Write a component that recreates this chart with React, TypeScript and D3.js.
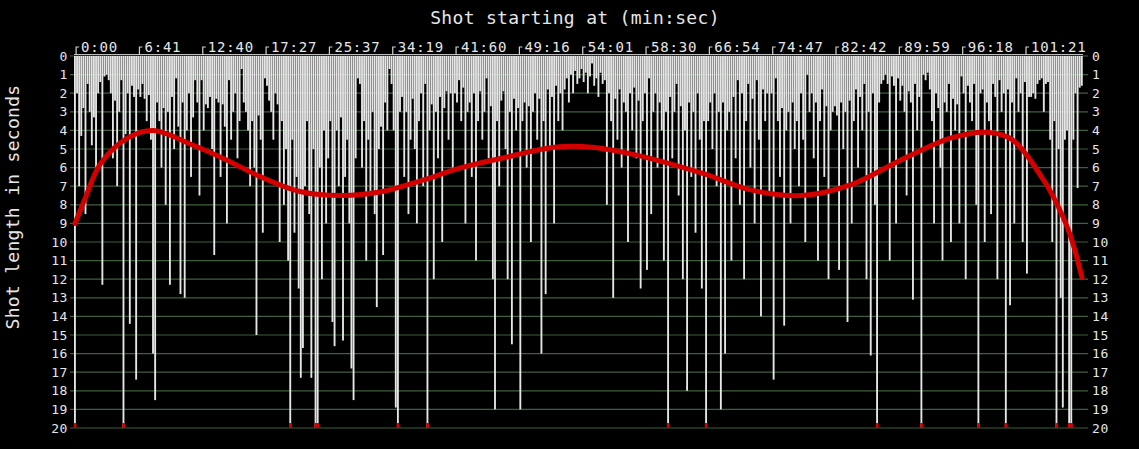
import React from 'react';
import * as d3 from 'd3';

// Shot lengths in seconds, in shot order (values >= 20 are capped & flagged red)
const shotLengths: number[] = [
  22, 2.0, 7.0, 4.3, 2.8, 8.5, 1.5, 3.0, 4.8, 3.3, 6.0, 2.0, 1.4, 12.3, 1.1, 1.0, 1.3, 2.0, 5.5, 2.4, 7.0, 3.0, 1.3, 21, 4.2, 2.0, 14.4, 1.6, 2.2, 17.4,
  1.8, 2.2, 1.5, 2.3, 3.5, 2.1, 4.5, 16.0, 18.5, 2.5, 3.5, 6.0, 2.8, 8.0, 3.0, 12.3, 2.2, 5.0, 1.2, 3.8, 12.8, 2.5, 13.0, 4.0, 2.0, 6.5, 3.3, 1.3, 2.5, 7.5,
  1.3, 4.0, 2.6, 2.8, 2.2, 5.0, 10.7, 2.3, 2.5, 6.5, 2.6, 3.8, 9.0, 1.3, 4.5, 3.0, 2.0, 5.5, 3.5, 0.7, 2.5, 3.0, 4.0, 7.0, 3.5, 6.0, 15.0, 3.2, 4.5, 9.5,
  1.2, 1.6, 2.4, 3.0, 4.5, 2.0, 2.6, 10.0, 3.5, 8.0, 5.0, 11.0, 21, 4.5, 9.5, 6.5, 12.5, 17.3, 15.7, 7.0, 3.5, 8.5, 17.3, 5.0, 22, 21, 6.0, 12.0, 4.0, 9.0,
  5.5, 3.5, 14.3, 15.6, 4.0, 7.0, 3.3, 15.3, 6.5, 4.5, 9.0, 16.8, 18.5, 5.5, 1.2, 1.5, 6.0, 3.5, 11.0, 4.5, 7.5, 3.0, 8.5, 13.5, 5.0, 3.8, 10.7, 2.5, 4.0, 0.7,
  1.5, 4.0, 18.9, 21, 3.0, 2.2, 6.5, 3.0, 8.5, 4.5, 2.3, 5.0, 9.0, 3.5, 2.0, 7.0, 1.5, 21, 4.0, 2.6, 12.0, 3.0, 5.5, 2.2, 10.0, 2.8, 1.9, 4.5, 2.0, 6.0,
  2.0, 2.5, 1.3, 3.5, 1.7, 9.0, 3.0, 2.5, 6.5, 2.0, 11.0, 3.5, 1.9, 4.5, 3.0, 1.2, 5.5, 2.7, 12.0, 19.0, 3.5, 7.0, 2.4, 1.9, 5.0, 12.0, 3.0, 15.5, 2.3, 4.0,
  2.8, 19.0, 3.5, 2.5, 6.0, 2.7, 10.0, 3.0, 2.0, 4.5, 2.3, 16.0, 3.5, 12.8, 1.8, 5.0, 2.2, 9.0, 1.6, 3.5, 2.0, 4.0, 1.8, 1.2, 2.5, 1.0, 2.0, 0.8, 1.5, 1.2,
  0.7, 1.4, 0.9, 2.0, 1.1, 0.4, 1.6, 1.2, 2.2, 0.9, 1.5, 1.3, 8.0, 2.0, 3.5, 13.0, 2.3, 4.5, 1.8, 6.0, 2.5, 3.0, 10.0, 2.0, 4.0, 1.7, 5.5, 2.4, 12.5, 3.5,
  2.0, 11.5, 1.2, 8.5, 3.0, 2.0, 6.0, 2.5, 4.0, 11.0, 3.0, 21, 2.2, 5.5, 3.0, 1.5, 7.5, 2.7, 12.0, 4.0, 18.0, 2.5, 6.5, 3.0, 9.5, 2.0, 4.5, 12.5, 3.5, 21,
  3.5, 2.5, 5.0, 2.0, 7.0, 3.0, 19.0, 2.5, 16.0, 4.0, 3.0, 11.0, 2.2, 5.5, 1.3, 8.0, 2.0, 12.0, 3.5, 1.5, 6.0, 2.3, 9.0, 1.3, 4.5, 14.0, 1.8, 3.5, 2.0, 7.5,
  2.0, 17.4, 1.2, 3.5, 6.5, 2.8, 14.5, 4.0, 3.0, 9.0, 2.5, 5.0, 3.5, 7.0, 2.0, 4.5, 10.0, 1.0, 3.0, 2.0, 5.5, 2.5, 11.0, 3.5, 1.8, 6.5, 2.7, 12.0, 4.0, 3.0,
  2.7, 3.2, 11.5, 2.5, 5.0, 3.0, 14.3, 2.4, 9.0, 3.5, 1.8, 6.0, 2.2, 4.0, 1.5, 12.0, 3.0, 16.1, 2.0, 8.0, 21, 2.5, 1.5, 1.3, 1.0, 1.5, 11.0, 1.1, 1.6, 9.0,
  1.2, 2.4, 1.6, 3.0, 7.5, 1.9, 2.5, 13.1, 1.5, 4.0, 2.2, 21, 1.0, 1.3, 0.9, 1.8, 3.5, 9.0, 2.0, 2.8, 6.0, 11.0, 2.5, 3.0, 1.5, 10.0, 2.3, 4.0, 2.6, 9.0,
  1.1, 2.0, 12.0, 1.6, 2.5, 3.5, 1.5, 8.0, 21, 2.0, 1.8, 10.0, 2.5, 3.5, 8.5, 1.5, 2.2, 12.0, 1.3, 3.0, 2.0, 21, 1.8, 13.4, 2.5, 9.0, 1.2, 3.0, 2.0, 10.0,
  1.4, 11.7, 2.2, 2.2, 2.0, 2.3, 1.5, 1.3, 1.2, 3.0, 1.5, 1.4, 4.5, 10.0, 3.5, 21, 5.0, 13.0, 18.9, 4.5, 4.0, 22, 22, 4.5, 2.0, 7.1, 1.7, 1.6,
];

// Top axis: a tick every 30 shots, labelled with shot start time
const tickEvery = 30;
const tickLabels: string[] = [
  '0:00', '6:41', '12:40', '17:27', '25:37', '34:19', '41:60', '49:16',
  '54:01', '58:30', '66:54', '74:47', '82:42', '89:59', '96:18', '101:21',
];

// Trend line (shot index, seconds)
const trendIndex: number[] = [0, 5, 12, 25, 37, 56, 72, 88, 107, 126, 145, 164, 183, 202, 227, 245, 265, 297, 320, 344, 368, 391, 415, 432, 444, 459, 464, 471, 477];
const trendSeconds: number[] = [9.0, 7.6, 5.8, 4.4, 4.0, 4.8, 5.6, 6.5, 7.3, 7.5, 7.3, 6.7, 6.0, 5.5, 4.9, 4.9, 5.3, 6.3, 7.2, 7.5, 6.9, 5.6, 4.4, 4.1, 4.5, 6.7, 7.7, 9.5, 11.9];

const yTicks: number[] = d3.range(0, 21);
const maxSeconds = 20;

export default function App() {
  const W = 1139;
  const H = 449;
  const left = 74;
  const right = 1083;
  const top = 56;
  const bottom = 428;
  const n = shotLengths.length;

  const x = d3.scaleBand<number>().domain(d3.range(n)).range([left, right]).padding(0);
  const bw = x.bandwidth();
  const y = d3.scaleLinear().domain([0, maxSeconds]).range([top, bottom]);
  const tx = d3.scaleLinear().domain([0, n - 1]).range([left + 1, right - 1]);

  const trendPts: [number, number][] = trendIndex.map((d, i) => [d, trendSeconds[i]]);
  const line = d3
    .line<[number, number]>()
    .x((d) => tx(d[0]))
    .y((d) => y(d[1]))
    .curve(d3.curveCatmullRom.alpha(0.5));

  const font = '"DejaVu Sans Mono", "Liberation Mono", monospace';
  const txt = '#e6e6e6';

  return (
    <>
      <style>{`html,body{margin:0;padding:0;background:#000;}`}</style>
      <svg width={W} height={H} style={{ display: 'block', background: '#000' }}>
        <rect x={0} y={0} width={W} height={H} fill="#000" />
        {/* gridlines */}
        {yTicks.map((t) => (
          <line key={'g' + t} x1={left - 4} x2={right + 5} y1={y(t)} y2={y(t)} stroke="#3f5f3d" strokeWidth={1.2} />
        ))}
        {/* bars */}
        {shotLengths.map((v, i) => (
          <rect
            key={'b' + i}
            x={x(i)!}
            y={y(0)}
            width={bw * 0.88}
            height={y(Math.min(v, maxSeconds)) - y(0)}
            fill="#e6e6e6"
          />
        ))}
        {/* red markers for shots at/over the limit */}
        {shotLengths.map((v, i) =>
          v >= maxSeconds ? (
            <rect key={'r' + i} x={x(i)! - 0.3} y={y(maxSeconds) - 5} width={bw + 0.6} height={5} fill="#d40000" />
          ) : null
        )}
        {/* top axis line */}
        <line x1={left} x2={right} y1={top - 1.5} y2={top - 1.5} stroke="#bdbdbd" strokeWidth={1} />
        {/* top ticks */}
        {tickLabels.map((lab, k) => {
          const xi = x(k * tickEvery)! + bw;
          return (
            <g key={'t' + k}>
              <path d={`M${xi},${top - 1} V${top - 9} H${xi + 3}`} fill="none" stroke="#d0d0d0" strokeWidth={1.2} />
              <text x={xi + 5} y={top - 4} fill={txt} fontFamily={font} fontSize={14} letterSpacing={0.8}>
                {lab}
              </text>
            </g>
          );
        })}
        {/* y labels left & right */}
        {yTicks.map((t) => (
          <g key={'yl' + t}>
            <text x={68} y={y(t)} dy="0.35em" textAnchor="end" fill={txt} fontFamily={font} fontSize={13} letterSpacing={0.6}>
              {t}
            </text>
            <text x={1092} y={y(t)} dy="0.35em" textAnchor="start" fill={txt} fontFamily={font} fontSize={13} letterSpacing={0.6}>
              {t}
            </text>
          </g>
        ))}
        {/* trend */}
        <path d={line(trendPts) || ''} fill="none" stroke="#d40000" strokeWidth={5} strokeLinecap="round" />
        {/* titles */}
        <text x={575} y={24} textAnchor="middle" fill={txt} fontFamily={font} fontSize={18} letterSpacing={0.3}>
          Shot starting at (min:sec)
        </text>
        <text
          transform={`translate(19,207) rotate(-90)`}
          textAnchor="middle"
          fill={txt}
          fontFamily={font}
          fontSize={18}
          letterSpacing={0.3}
        >
          Shot length in seconds
        </text>
      </svg>
    </>
  );
}
